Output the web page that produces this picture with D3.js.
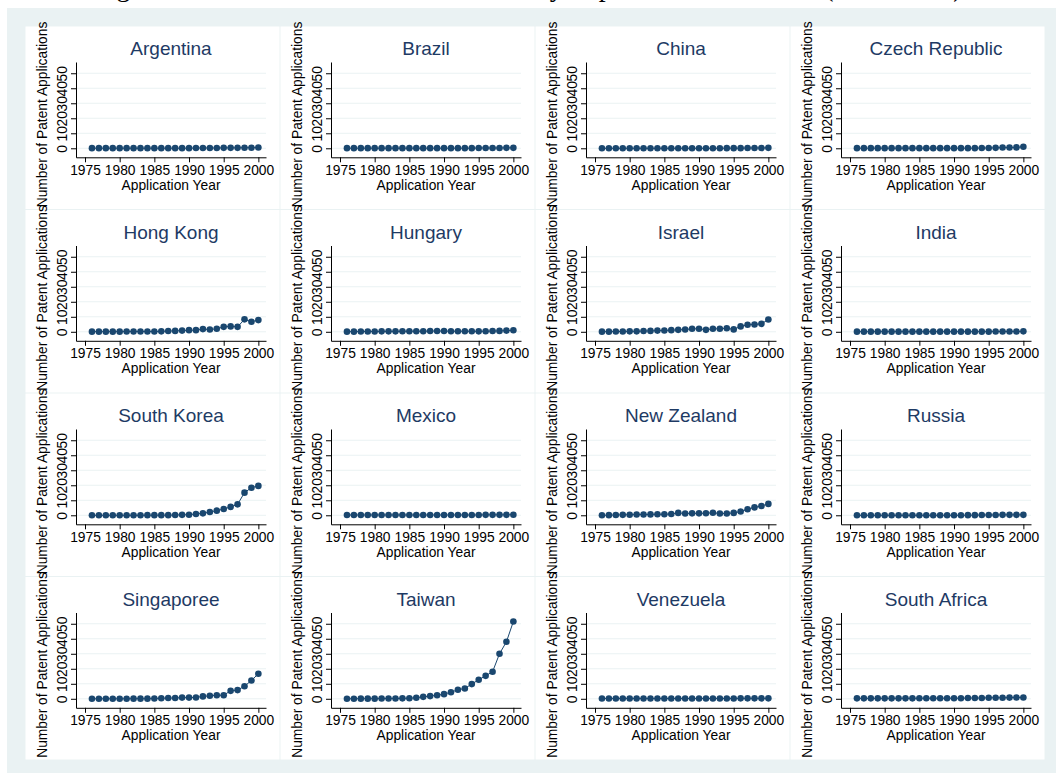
<!DOCTYPE html>
<html>
<head>
<meta charset="utf-8">
<script src="https://cdnjs.cloudflare.com/ajax/libs/d3/7.8.5/d3.min.js"></script>
<style>
  body { margin: 0; background: #ffffff; }
  svg { display: block; font-family: "Liberation Sans", Arial, sans-serif; }
</style>
</head>
<body>
<script>
// data (patent applications per year)
var years = [1976, 1977, 1978, 1979, 1980, 1981, 1982, 1983, 1984, 1985, 1986, 1987, 1988,
             1989, 1990, 1991, 1992, 1993, 1994, 1995, 1996, 1997, 1998, 1999, 2000];

var countries = ["Argentina", "Brazil", "China", "Czech Republic",
                 "Hong Kong", "Hungary", "Israel", "India",
                 "South Korea", "Mexico", "New Zealand", "Russia",
                 "Singaporee", "Taiwan", "Venezuela", "South Africa"];

var argentina   = [0.1,0.1,0.1,0.1,0.1,0.1,0.1,0.1,0.1,0.1,0.1,0.1,0.1,0.1,0.1,0.2,0.2,0.2,0.2,0.3,0.3,0.3,0.4,0.4,0.5];
var brazil      = [0.1,0.1,0.1,0.1,0.1,0.1,0.1,0.1,0.1,0.1,0.1,0.1,0.1,0.1,0.1,0.1,0.1,0.1,0.1,0.2,0.2,0.2,0.2,0.3,0.3];
var china       = [0,0,0,0,0,0,0,0,0,0,0,0,0,0,0,0,0,0,0.1,0.1,0.1,0.2,0.2,0.2,0.3];
var czech       = [0.1,0.1,0.1,0.1,0.1,0.1,0.1,0.1,0.1,0.1,0.1,0.1,0.1,0.1,0.1,0.1,0.1,0.1,0.2,0.2,0.3,0.5,0.5,0.6,1.0];
var hongKong    = [0.1,0.1,0.1,0.1,0.1,0.2,0.2,0.2,0.2,0.2,0.3,0.5,0.6,0.8,1.1,1.1,1.8,1.5,2.0,3.3,3.6,3.3,8.3,6.7,7.8];
var hungary     = [0.1,0.1,0.2,0.2,0.2,0.3,0.3,0.3,0.4,0.4,0.4,0.4,0.5,0.5,0.5,0.4,0.4,0.4,0.4,0.3,0.4,0.5,0.6,0.8,1.0];
var israel      = [0.1,0.1,0.2,0.2,0.3,0.3,0.5,0.6,0.8,0.9,1.1,1.3,1.5,2.0,2.0,1.3,2.0,2.0,2.4,1.6,3.6,4.7,4.9,5.3,8.2];
var india       = [0.1,0.1,0.1,0.1,0.1,0.1,0.1,0.1,0.1,0.1,0.1,0.1,0.1,0.1,0.1,0.1,0.1,0.1,0.1,0.1,0.2,0.2,0.2,0.2,0.3];
var southKorea  = [0,0,0,0,0,0,0,0,0.1,0.1,0.1,0.1,0.2,0.3,0.4,0.9,1.3,2.2,3.1,4.2,5.6,7.3,15.1,18.4,19.6];
var mexico      = [0.2,0.2,0.2,0.2,0.2,0.2,0.2,0.2,0.2,0.2,0.2,0.2,0.2,0.2,0.2,0.2,0.2,0.2,0.2,0.2,0.3,0.3,0.3,0.3,0.4];
var newZealand  = [0,0.1,0.2,0.3,0.4,0.5,0.5,0.6,0.7,0.7,0.9,1.6,1.2,1.3,1.3,1.4,1.7,1.2,1.2,1.6,2.5,4.0,5.3,6.2,7.6];
var russia      = [0,0,0,0,0,0,0,0,0,0,0,0,0,0,0,0,0.1,0.1,0.2,0.2,0.2,0.3,0.3,0.3,0.3];
var singapore   = [0,0,0,0,0,0,0.1,0.1,0.1,0.2,0.4,0.5,0.5,0.8,0.8,0.9,1.6,2.0,2.4,2.4,5.3,5.8,8.4,12.2,16.7];
var taiwan      = [0,0.05,0.1,0.1,0.1,0.15,0.2,0.2,0.3,0.4,0.7,1.3,1.8,2.4,3.1,4.4,6.0,6.9,9.8,12.7,15.3,18.0,30.0,38.0,51.5];
var venezuela   = [0.2,0.2,0.2,0.2,0.2,0.2,0.2,0.2,0.2,0.2,0.2,0.2,0.2,0.2,0.2,0.2,0.2,0.2,0.2,0.2,0.3,0.3,0.3,0.3,0.3];
var southAfrica = [0.3,0.3,0.3,0.3,0.3,0.3,0.3,0.3,0.3,0.4,0.4,0.4,0.4,0.4,0.4,0.4,0.5,0.5,0.5,0.7,0.7,0.7,0.8,0.9,0.9];

var series = [argentina, brazil, china, czech, hongKong, hungary, israel, india,
              southKorea, mexico, newZealand, russia, singapore, taiwan, venezuela, southAfrica];

var yTitles = ["Number of Patent Applications", "Number of Patent Applications", "Number of Patent Applications", "Number of PAtent Applications",
               "Number of Patent Applications", "Number of Patent Applications", "Number of Patent Applications", "Number of Patent Applications",
               "Number of Patent Applications", "Number of Patent Applications", "Number of Patent Applications", "Number of Patent Applications",
               "Number of Patent Applications", "Number of Patent Applications", "Number of Patent Applications", "Number of Patent Applications"];

var xTicks = [1975, 1980, 1985, 1990, 1995, 2000];
var yTicks = [0, 10, 20, 30, 40, 50];
var xTitle = "Application Year";
var mainTitle = "Figure 3: The Number of Patents, Filed by Top Sixteen Countries (1976-2000)";

// layout
var w = 1056, h = 773;
var gridX = 25, gridY = 26, panelW = 255, panelH = 183.5;
var plotL = 51, plotR = 241, plotT = 36, plotB = 131.3;
var navy = "#1a476f", frame = "#eaf2f3";
var fs = "13.8px";

var svg = d3.select("body")
    .append("svg")
    .attr("width", w)
    .attr("height", h);

// outer region
svg.append("rect")
    .attr("x", 7).attr("y", 8)
    .attr("width", w - 7).attr("height", h - 8)
    .attr("fill", frame);

// main title, mostly cut off by the top of the picture
svg.append("text")
    .attr("x", 528).attr("y", -4)
    .attr("text-anchor", "middle")
    .attr("font-family", "'Liberation Serif', 'Times New Roman', serif")
    .attr("font-size", "27.7px")
    .attr("fill", "#000")
    .text(mainTitle);

var x = d3.scaleLinear().domain([1973.7, 2001.1]).range([plotL, plotR]);
var y = d3.scaleLinear().domain([-6, 57.5]).range([plotB, plotT]);

var line = d3.line()
    .x(function(d) { return x(d[0]); })
    .y(function(d) { return y(d[1]); });

// panels (white boxes first so labels overflowing a neighbour stay visible)
countries.forEach(function(c, i) {
    svg.append("rect")
        .attr("x", gridX + (i % 4) * panelW + 0.5)
        .attr("y", gridY + Math.floor(i / 4) * panelH + 0.5)
        .attr("width", panelW - 1)
        .attr("height", panelH - 1)
        .attr("fill", "#fff");
});

countries.forEach(function(c, i) {
    var g = svg.append("g")
        .attr("transform", "translate(" + (gridX + (i % 4) * panelW) + "," + (gridY + Math.floor(i / 4) * panelH) + ")");

    var pts = years.map(function(yr, k) { return [yr, series[i][k]]; });

    // gridlines
    g.selectAll(".grid")
        .data(yTicks)
        .enter()
        .append("line")
        .attr("x1", plotL).attr("x2", plotR)
        .attr("y1", function(d) { return y(d); })
        .attr("y2", function(d) { return y(d); })
        .attr("stroke", frame)
        .attr("stroke-width", 1);

    // y axis
    var ya = g.append("g")
        .attr("transform", "translate(" + plotL + ",0)")
        .call(d3.axisLeft(y).tickValues(yTicks).tickSize(5).tickSizeOuter(0));
    ya.selectAll("text")
        .attr("transform", "rotate(-90)")
        .attr("x", 0).attr("y", -9.5).attr("dy", 0)
        .attr("text-anchor", "middle")
        .attr("font-size", fs)
        .attr("font-family", "'Liberation Sans', Arial, sans-serif")
        .attr("fill", "#000");

    // x axis
    var xa = g.append("g")
        .attr("transform", "translate(0," + plotB + ")")
        .call(d3.axisBottom(x).tickValues(xTicks).tickSize(5).tickSizeOuter(0).tickFormat(d3.format("d")));
    xa.selectAll("text")
        .attr("y", 7.5)
        .attr("font-size", fs)
        .attr("font-family", "'Liberation Sans', Arial, sans-serif")
        .attr("fill", "#000");

    g.selectAll(".domain, .tick line").attr("stroke", "#000");

    // title
    g.append("text")
        .attr("x", (plotL + plotR) / 2).attr("y", 29)
        .attr("text-anchor", "middle")
        .attr("font-size", "19px")
        .attr("fill", "#1e3a64")
        .text(c);

    // axis titles
    g.append("text")
        .attr("x", (plotL + plotR) / 2).attr("y", 163.5)
        .attr("text-anchor", "middle")
        .attr("font-size", fs)
        .attr("fill", "#000")
        .text(xTitle);

    g.append("text")
        .attr("transform", "translate(21.5,88.5) rotate(-90)")
        .attr("text-anchor", "middle")
        .attr("font-size", fs)
        .attr("fill", "#000")
        .text(yTitles[i]);

    // connected line and markers
    g.append("path")
        .datum(pts)
        .attr("d", line)
        .attr("fill", "none")
        .attr("stroke", navy)
        .attr("stroke-width", 1);

    g.selectAll(".pt")
        .data(pts)
        .enter()
        .append("circle")
        .attr("cx", function(d) { return x(d[0]); })
        .attr("cy", function(d) { return y(d[1]); })
        .attr("r", 3.3)
        .attr("fill", navy);
});
</script>
</body>
</html>
